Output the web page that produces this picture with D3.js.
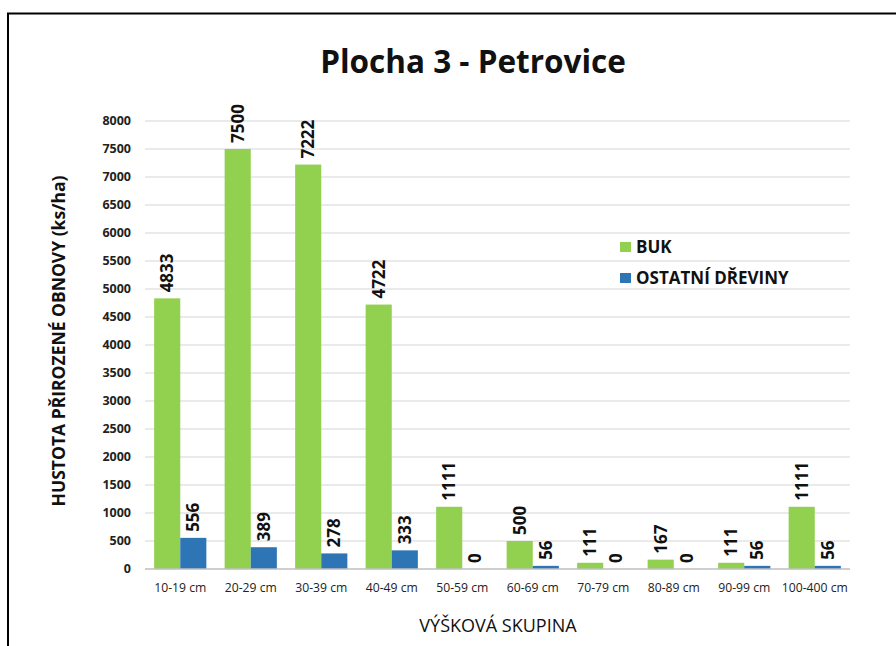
<!DOCTYPE html>
<html>
<head>
<meta charset="utf-8">
<script src="https://cdn.jsdelivr.net/npm/d3@7"></script>
<style>
  body { margin: 0; background: #fff; }
  svg { display: block; font-family: "Open Sans", sans-serif; }
</style>
</head>
<body>
<script>
const width = 896;
const height = 646;

const categories = ['10-19 cm', '20-29 cm', '30-39 cm', '40-49 cm', '50-59 cm',
  '60-69 cm', '70-79 cm', '80-89 cm', '90-99 cm', '100-400 cm'];
const buk = [4833, 7500, 7222, 4722, 1111, 500, 111, 167, 111, 1111];
const ostatni = [556, 389, 278, 333, 0, 56, 0, 0, 56, 56];
const seriesNames = ['BUK', 'OSTATNÍ DŘEVINY'];
const yTicks = d3.range(0, 8001, 500);

const colors = ['#92d050', '#2e75b6'];

const margin = { top: 121, left: 145, right: 46, bottom: 77 };

const svg = d3.select('body').append('svg')
  .attr('width', width)
  .attr('height', height);

// frame
svg.append('path')
  .attr('d', `M8,${height} L8,13.5 L${width},13.5`)
  .attr('fill', 'none')
  .attr('stroke', '#000')
  .attr('stroke-width', 2);

const x = d3.scaleBand()
  .domain(categories)
  .range([margin.left, width - margin.right]);

const xs = d3.scaleBand()
  .domain([0, 1])
  .range([0, x.bandwidth()])
  .paddingOuter(0.35)
  .paddingInner(0);

const y = d3.scaleLinear()
  .domain([0, 8000])
  .range([height - margin.bottom, margin.top]);

// grid
svg.append('g')
  .selectAll('line')
  .data(yTicks.filter(t => t > 0))
  .enter().append('line')
    .attr('x1', margin.left)
    .attr('x2', width - margin.right)
    .attr('y1', d => y(d))
    .attr('y2', d => y(d))
    .attr('stroke', '#e3e3e3')
    .attr('stroke-width', 1.3);

// y tick labels
svg.append('g')
  .selectAll('text')
  .data(yTicks)
  .enter().append('text')
    .attr('x', 131)
    .attr('y', d => y(d))
    .attr('dy', '0.35em')
    .attr('text-anchor', 'end')
    .attr('font-size', 12.5)
    .attr('font-weight', 'bold')
    .attr('fill', '#222')
    .text(d => d);

const groups = svg.append('g')
  .selectAll('g')
  .data(categories)
  .enter().append('g')
    .attr('transform', d => `translate(${x(d)},0)`);

[buk, ostatni].forEach((series, si) => {
  groups.append('rect')
    .attr('x', xs(si))
    .attr('width', xs.bandwidth())
    .attr('y', (d, i) => y(series[i]))
    .attr('height', (d, i) => y(0) - y(series[i]))
    .attr('fill', colors[si]);

  groups.append('text')
    .attr('transform', (d, i) =>
      `translate(${xs(si) + xs.bandwidth() / 2},${y(series[i]) - 6}) rotate(-90)`)
    .attr('dy', '0.36em')
    .attr('text-anchor', 'start')
    .attr('font-size', 17)
    .attr('font-weight', 'bold')
    .attr('fill', '#111')
    .text((d, i) => series[i]);
});

// baseline
svg.append('line')
  .attr('x1', margin.left)
  .attr('x2', width - margin.right)
  .attr('y1', y(0))
  .attr('y2', y(0))
  .attr('stroke', '#bfbfbf')
  .attr('stroke-width', 1.5);

// x tick labels
svg.append('g')
  .selectAll('text')
  .data(categories)
  .enter().append('text')
    .attr('x', d => x(d) + x.bandwidth() / 2)
    .attr('y', 592)
    .attr('text-anchor', 'middle')
    .attr('font-size', 12.2)
    .attr('fill', '#222')
    .text(d => d);

// title
svg.append('text')
  .attr('x', 473)
  .attr('y', 73)
  .attr('text-anchor', 'middle')
  .attr('font-size', 31.5)
  .attr('font-weight', 'bold')
  .attr('fill', '#111')
  .text('Plocha 3 - Petrovice');

// axis titles
svg.append('text')
  .attr('x', 498)
  .attr('y', 632)
  .attr('text-anchor', 'middle')
  .attr('font-size', 18)
  .attr('fill', '#111')
  .text('VÝŠKOVÁ SKUPINA');

svg.append('text')
  .attr('transform', 'translate(65,341) rotate(-90)')
  .attr('text-anchor', 'middle')
  .attr('font-size', 17.5)
  .attr('font-weight', 'bold')
  .attr('fill', '#111')
  .text('HUSTOTA PŘIROZENÉ OBNOVY (ks/ha)');

// legend
const legend = svg.append('g')
  .selectAll('g')
  .data(seriesNames)
  .enter().append('g')
    .attr('transform', (d, i) => `translate(620,${247 + i * 31})`);

legend.append('rect')
  .attr('x', 0)
  .attr('y', -5)
  .attr('width', 11)
  .attr('height', 10)
  .attr('fill', (d, i) => colors[i]);

legend.append('text')
  .attr('x', 16)
  .attr('dy', '0.36em')
  .attr('font-size', 17)
  .attr('font-weight', 'bold')
  .attr('fill', '#111')
  .text(d => d);
</script>
</body>
</html>
